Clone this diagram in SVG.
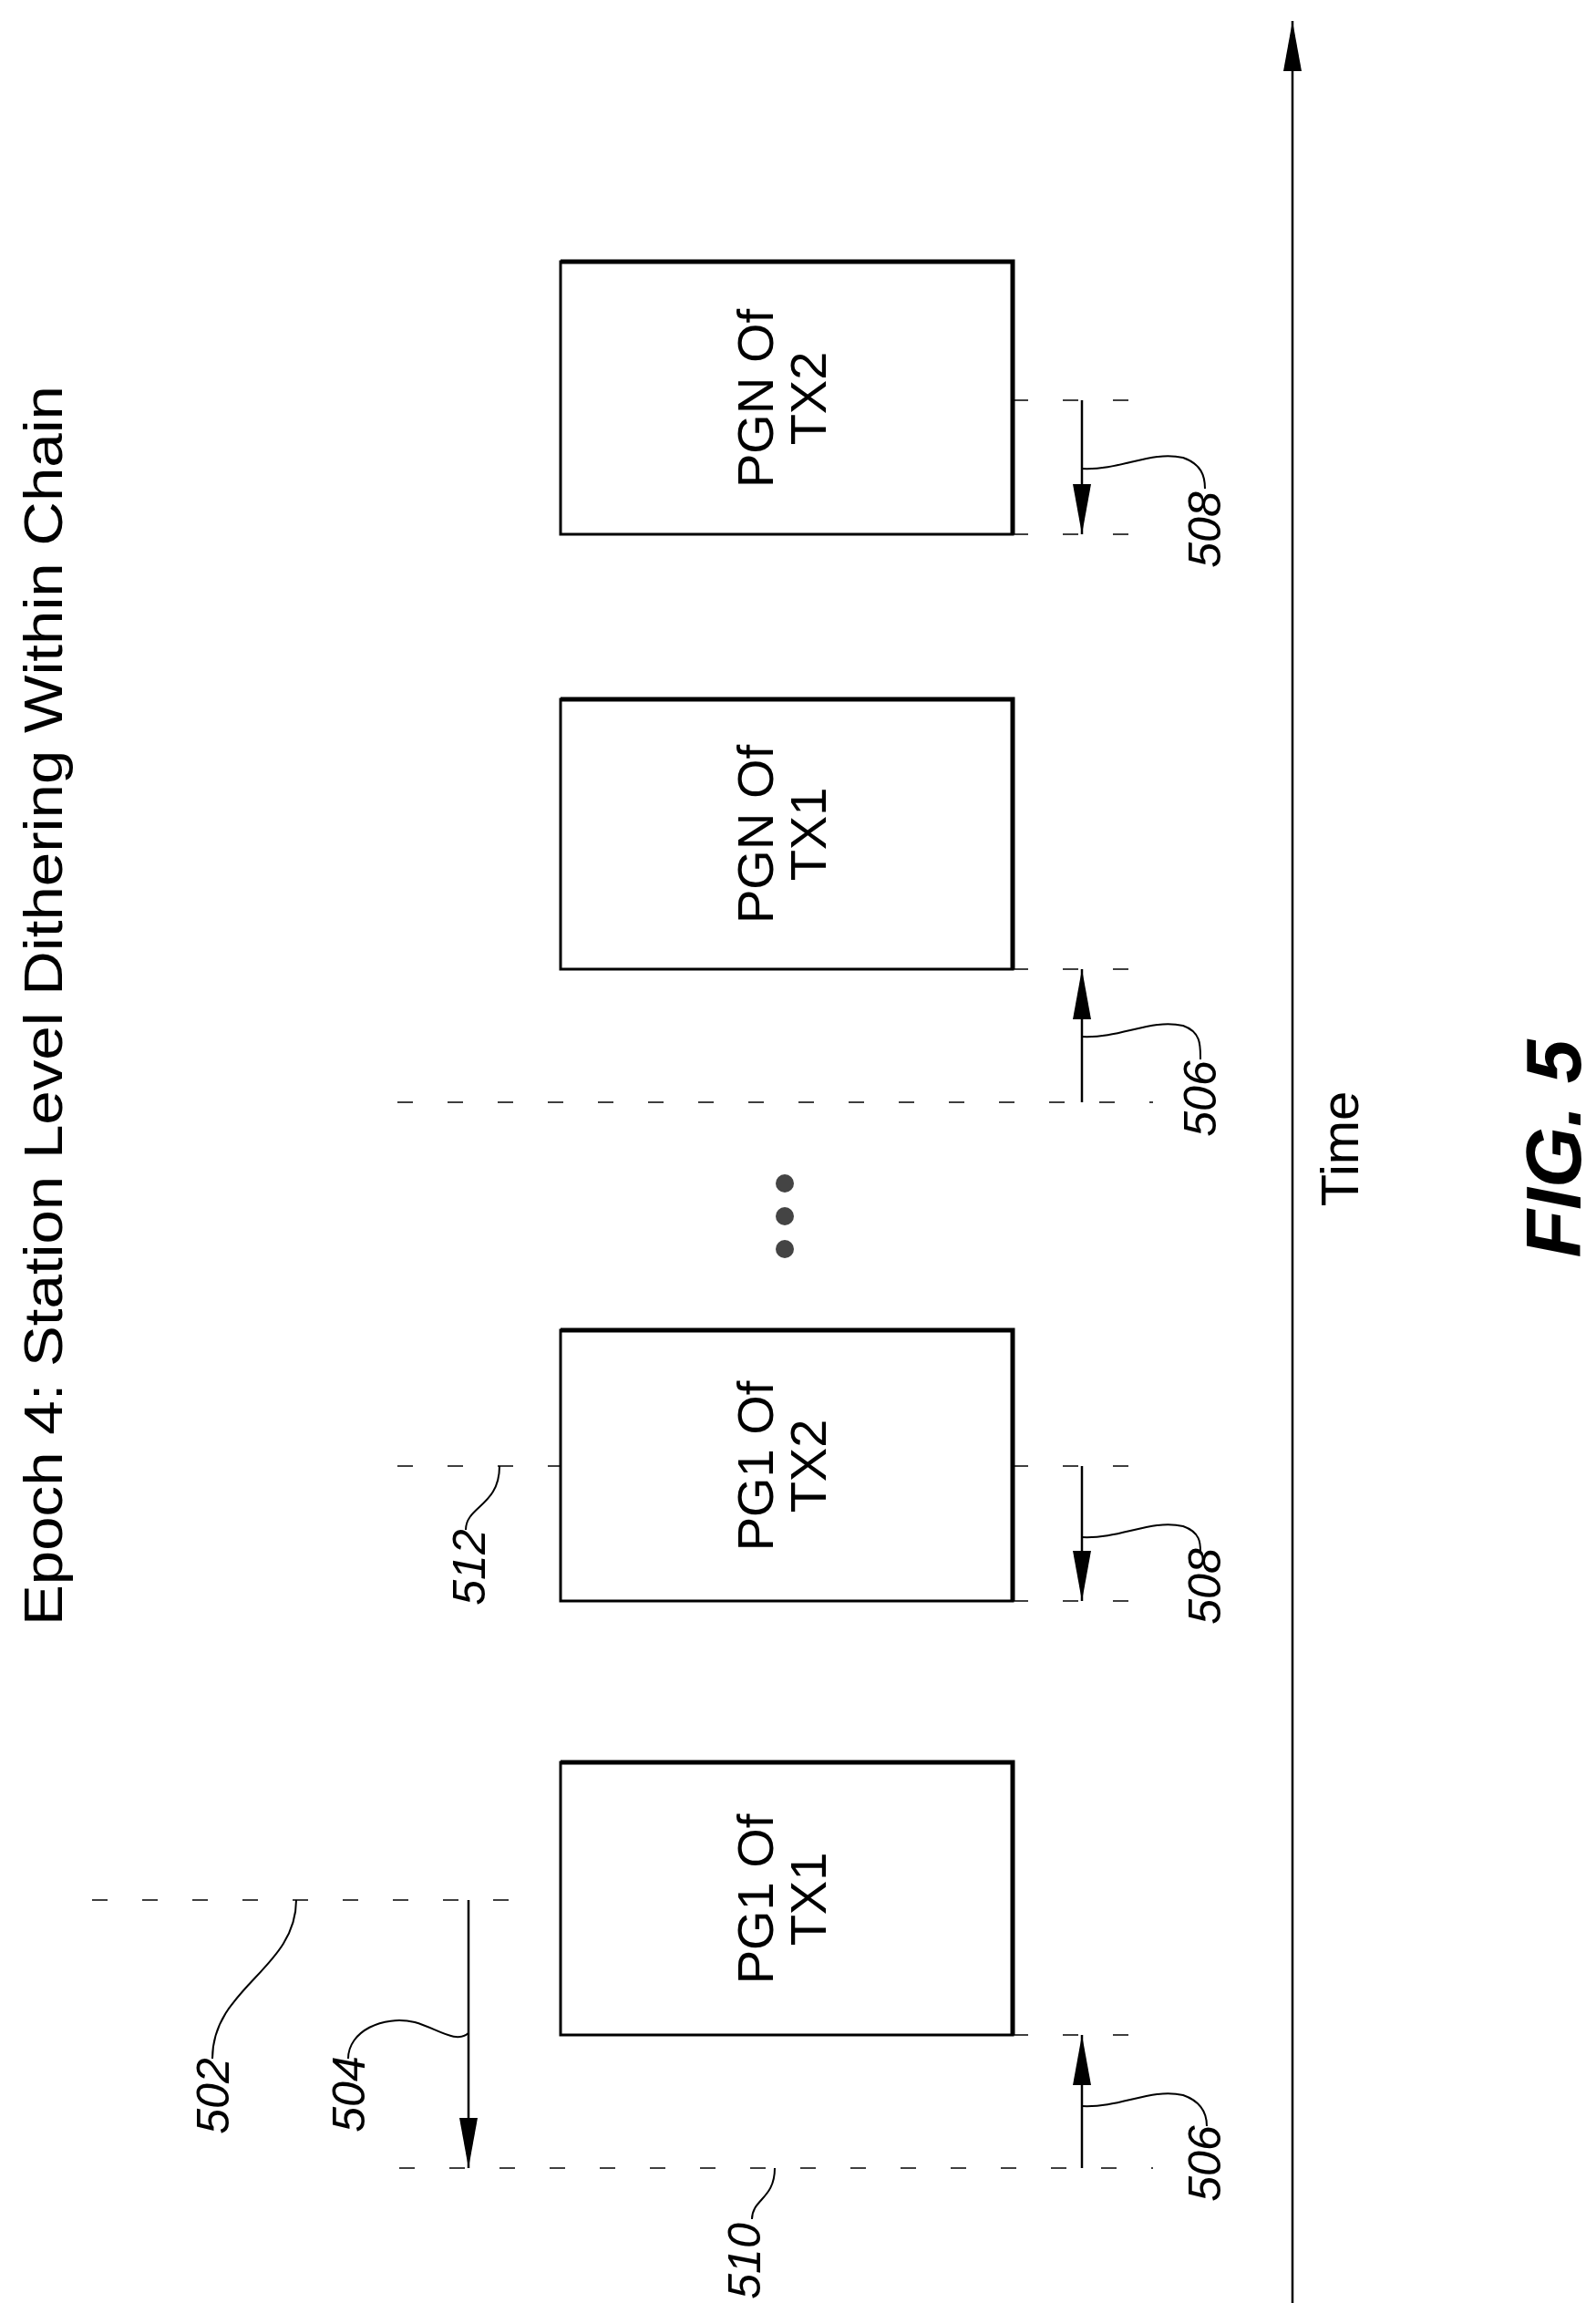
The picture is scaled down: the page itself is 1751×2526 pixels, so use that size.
<svg xmlns="http://www.w3.org/2000/svg" width="1751" height="2526" viewBox="0 0 1751 2526">
<defs>
<marker id="ah" markerUnits="userSpaceOnUse" markerWidth="60" markerHeight="24" refX="55" refY="10" orient="auto"><path d="M0,0 L55,10 L0,20 Z" fill="#000"/></marker>
</defs>
<style>
.box{fill:#fff;stroke:#000;stroke-width:3}
.edge{stroke:#000;stroke-width:5;fill:none}
.dash{stroke:#000;stroke-width:1.5;stroke-dasharray:17 38;fill:none}
.arr{stroke:#000;stroke-width:2.5;fill:none;marker-end:url(#ah)}
.lead{stroke:#000;stroke-width:2;fill:none}
.t{font-family:"Liberation Sans",Arial,sans-serif;fill:#000}
.lbl{font-family:"Liberation Sans",Arial,sans-serif;font-style:italic;font-size:50px;text-anchor:middle;fill:#000}
.bt{font-family:"Liberation Sans",Arial,sans-serif;font-size:56px;text-anchor:middle;fill:#000}
</style>
<rect width="1751" height="2526" fill="#fff"/>
<text class="t" font-size="60" transform="translate(68,1783) rotate(-90)" textLength="1360" lengthAdjust="spacingAndGlyphs">Epoch 4: Station Level Dithering Within Chain</text>

<g id="pgn_tx2">
<rect class="box" x="615" y="287" width="496" height="299"/>
<path class="edge" d="M615,287 H1111 V586"/>
<g transform="translate(0,437) rotate(-90)"><text class="bt" x="0" y="848">PGN Of</text><text class="bt" x="0" y="906">TX2</text></g>
</g>
<g id="pgn_tx1">
<rect class="box" x="615" y="767" width="496" height="296"/>
<path class="edge" d="M615,767 H1111 V1063"/>
<g transform="translate(0,915) rotate(-90)"><text class="bt" x="0" y="848">PGN Of</text><text class="bt" x="0" y="906">TX1</text></g>
</g>
<g id="pg1_tx2">
<rect class="box" x="615" y="1459" width="496" height="297"/>
<path class="edge" d="M615,1459 H1111 V1756"/>
<g transform="translate(0,1608) rotate(-90)"><text class="bt" x="0" y="848">PG1 Of</text><text class="bt" x="0" y="906">TX2</text></g>
</g>
<g id="pg1_tx1">
<rect class="box" x="615" y="1933" width="496" height="299"/>
<path class="edge" d="M615,1933 H1111 V2232"/>
<g transform="translate(0,2083) rotate(-90)"><text class="bt" x="0" y="848">PG1 Of</text><text class="bt" x="0" y="906">TX1</text></g>
</g>

<g id="dots" fill="#444">
<circle cx="861" cy="1298" r="10"/><circle cx="861" cy="1334" r="10"/><circle cx="861" cy="1370" r="10"/>
</g>

<g id="connectors">
<line x1="1418" y1="2526" x2="1418" y2="23" class="arr"/>
<path class="dash" d="M1111,439 H1265 M1111,586 H1265 M1111,1063 H1265 M436,1209 H1265 M436,1608 H615 M1111,1608 H1265 M1111,1756 H1265 M101,2084 H561 M1111,2232 H1265 M438,2378 H1265"/>
<line class="arr" x1="1187" y1="439" x2="1187" y2="586"/>
<line class="arr" x1="1187" y1="1209" x2="1187" y2="1063"/>
<line class="arr" x1="1187" y1="1608" x2="1187" y2="1756"/>
<line class="arr" x1="1187" y1="2378" x2="1187" y2="2232"/>
<line class="arr" x1="514" y1="2084" x2="514" y2="2378"/>
<path class="lead" d="M325,2084 C325,2160 233,2180 233,2258"/>
<path class="lead" d="M514,2230 C500,2242 480,2225 455,2218 C420,2210 382,2228 382,2258"/>
<path class="lead" d="M850,2378 C850,2412 825,2412 825,2434"/>
<path class="lead" d="M548,1608 C548,1652 511,1652 511,1678"/>
<path class="lead" d="M1187,2310 C1230,2312 1262,2290 1298,2298 C1318,2305 1324,2318 1324,2332"/>
<path class="lead" d="M1187,1137 C1230,1139 1262,1117 1298,1125 C1318,1132 1317,1147 1317,1162"/>
<path class="lead" d="M1187,1686 C1230,1688 1262,1666 1298,1674 C1318,1681 1317,1694 1317,1704"/>
<path class="lead" d="M1187,514 C1230,516 1262,494 1298,502 C1318,509 1322,522 1322,536"/>
</g>

<g id="labels">
<text class="lbl" transform="translate(233,2299) rotate(-90)" y="18">502</text>
<text class="lbl" transform="translate(382,2297) rotate(-90)" y="18">504</text>
<text class="lbl" transform="translate(816,2480) rotate(-90)" y="18">510</text>
<text class="lbl" transform="translate(514,1719) rotate(-90)" y="18">512</text>
<text class="lbl" transform="translate(1321,2373) rotate(-90)" y="18">506</text>
<text class="lbl" transform="translate(1316,1205) rotate(-90)" y="18">506</text>
<text class="lbl" transform="translate(1321,1740) rotate(-90)" y="18">508</text>
<text class="lbl" transform="translate(1321,581) rotate(-90)" y="18">508</text>
<text class="t" font-size="58" text-anchor="middle" transform="translate(1490,1260) rotate(-90)">Time</text>
<text class="t" font-size="86" font-weight="bold" font-style="italic" text-anchor="middle" transform="translate(1734,1260) rotate(-90)">FIG. 5</text>
</g>
</svg>
